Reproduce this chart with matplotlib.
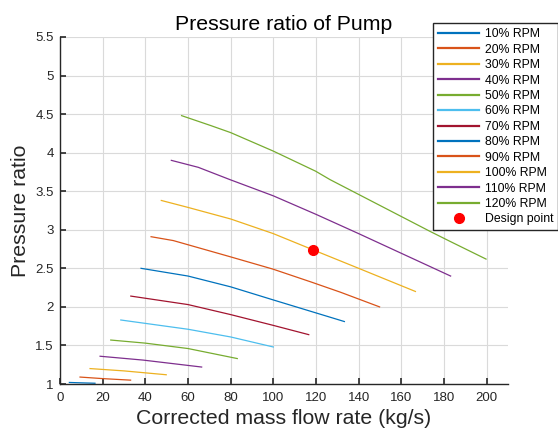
import numpy as np
import matplotlib
matplotlib.use('Agg')
import matplotlib.pyplot as plt

plt.rcParams['font.family'] = ['Liberation Sans', 'DejaVu Sans']

# speed lines of the pump map
speeds = ['10% RPM', '20% RPM', '30% RPM', '40% RPM', '50% RPM', '60% RPM',
          '70% RPM', '80% RPM', '90% RPM', '100% RPM', '110% RPM', '120% RPM']
flow = [
    [4.4, 10.0, 16.4],
    [9.4, 20.0, 33.1],
    [14.1, 30.0, 49.8],
    [18.8, 39.0, 66.4],
    [23.8, 40.0, 60.0, 83.1],
    [28.5, 60.0, 80.0, 100.0],
    [33.2, 60.0, 80.0, 100.0, 116.6],
    [38.0, 60.0, 80.0, 100.0, 133.3],
    [42.7, 53.1, 79.8, 99.8, 118.0, 131.5, 149.8],
    [47.5, 60.0, 80.0, 100.0, 118.6, 140.0, 166.6],
    [52.2, 64.8, 79.7, 100.0, 120.0, 140.0, 183.1],
    [57.0, 70.8, 80.0, 100.0, 119.8, 126.6, 173.4, 182.8, 199.7],
]
ratio = [
    [1.02, 1.015, 1.01],
    [1.09, 1.07, 1.05],
    [1.20, 1.17, 1.12],
    [1.36, 1.31, 1.22],
    [1.57, 1.53, 1.46, 1.33],
    [1.83, 1.71, 1.61, 1.48],
    [2.14, 2.03, 1.90, 1.76, 1.64],
    [2.50, 2.40, 2.26, 2.09, 1.81],
    [2.91, 2.86, 2.65, 2.49, 2.32, 2.19, 2.00],
    [3.38, 3.29, 3.14, 2.95, 2.74, 2.50, 2.20],
    [3.90, 3.81, 3.65, 3.44, 3.20, 2.95, 2.40],
    [4.48, 4.35, 4.26, 4.02, 3.76, 3.65, 2.98, 2.85, 2.62],
]
design_flow = 118.6
design_ratio = 2.74

colors = ['#0072BD', '#D95319', '#EDB120', '#7E2F8E', '#77AC30', '#4DBEEE', '#A2142F']

fig = plt.figure(figsize=(5.58, 4.32), dpi=100)
ax = fig.add_axes([0.1075, 0.1111, 0.8029, 0.8033])

for i in range(len(speeds)):
    ax.plot(flow[i], ratio[i], '-', color=colors[i % 7], lw=0.9, label=speeds[i])
ax.plot(design_flow, design_ratio, 'o', color='#FF0000', ms=7, mec='#FF0000',
        label='Design point', zorder=5)

ax.set_xlim(0, 210)
ax.set_ylim(1, 5.5)
ax.set_xticks(np.arange(0, 201, 20))
ax.set_yticks(np.arange(1, 5.51, 0.5))
ax.set_yticklabels(['1', '1.5', '2', '2.5', '3', '3.5', '4', '4.5', '5', '5.5'])
ax.grid(True, color='#dadada', lw=0.8)
ax.set_axisbelow(True)
ax.spines['top'].set_visible(False)
ax.spines['right'].set_visible(False)
for s in ['left', 'bottom']:
    ax.spines[s].set_color('#262626')
    ax.spines[s].set_linewidth(1.0)
ax.tick_params(direction='in', length=4, width=1.2, color='#262626',
               labelcolor='#262626', labelsize=9.5)
ax.tick_params(axis='x', pad=6)
ax.tick_params(axis='y', pad=4.5)

ax.set_title('Pressure ratio of Pump', fontsize=15.3, pad=5)
ax.set_xlabel('Corrected mass flow rate (kg/s)', fontsize=15.3, color='#262626', labelpad=3)
ax.set_ylabel('Pressure ratio', fontsize=15.3, color='#262626', labelpad=3.5)

leg = fig.legend(loc='upper left', bbox_to_anchor=(0.7755, 0.946), borderaxespad=0,
                 fontsize=8.8, handlelength=3.4, labelspacing=0.28, handletextpad=0.45,
                 borderpad=0.41, fancybox=False, framealpha=1, edgecolor='#262626')
leg.get_frame().set_linewidth(1.0)
for line in leg.get_lines():
    line.set_linewidth(1.6)

plt.savefig('out.png', dpi=100)
